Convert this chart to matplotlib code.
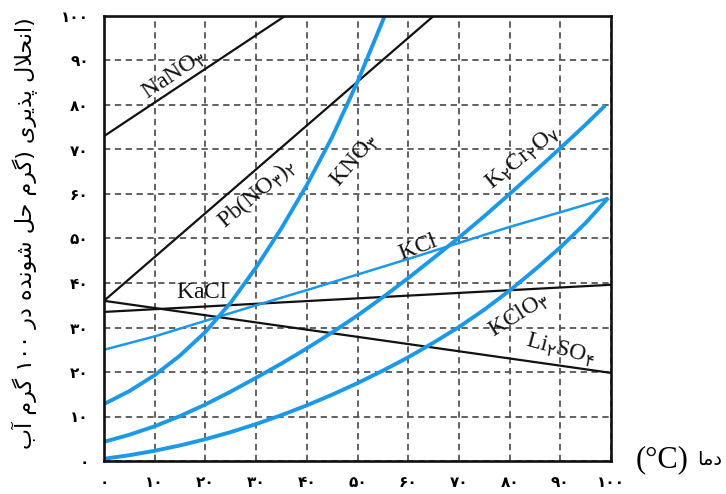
import matplotlib
matplotlib.use("Agg")
import matplotlib.pyplot as plt

plt.rcParams['mathtext.fontset'] = 'custom'
plt.rcParams['mathtext.rm'] = 'Liberation Serif'
plt.rcParams['mathtext.sf'] = 'DejaVu Sans'

# ---------------- data ----------------
tick_values = [0, 10, 20, 30, 40, 50, 60, 70, 80, 90, 100]
tick_labels = ['۰', '۱۰', '۲۰', '۳۰', '۴۰', '۵۰', '۶۰', '۷۰', '۸۰', '۹۰', '۱۰۰']

nano3_t = [0, 35.7]
nano3_s = [73, 100]

pbno32_t = [0, 65]
pbno32_s = [36, 100]

nacl_t = [0, 100]
nacl_s = [33.5, 39.6]

li2so4_t = [0, 100]
li2so4_s = [36, 19.8]

kno3_t = [0, 5, 10, 15, 20, 25, 30, 35, 40, 45, 50, 55, 57]
kno3_s = [12.8, 15.7, 19.3, 23.7, 29, 35.6, 43.5, 52.3, 62, 72.8, 85.2, 99, 105]

kcl_t = [0, 10, 20, 30, 40, 50, 60, 70, 80, 90, 99.2]
kcl_s = [25, 28, 31.5, 35, 38.4, 41.9, 45.4, 49, 52.6, 55.9, 59]

k2cr2o7_t = [0, 5, 10, 15, 20, 25, 30, 35, 40, 45, 50, 55, 60, 65, 70, 75, 80, 85, 90, 95, 98.6]
k2cr2o7_s = [4.3, 5.9, 7.8, 10.1, 12.7, 15.6, 18.7, 21.9, 25.3, 28.9, 32.7, 36.8, 41.1, 45.6,
             50.2, 55, 60, 65.1, 70.3, 75.6, 79.6]

kclo3_t = [0, 5, 10, 15, 20, 25, 30, 35, 40, 45, 50, 55, 60, 65, 70, 75, 80, 85, 90, 95, 99.2]
kclo3_s = [0.5, 1.3, 2.3, 3.5, 4.9, 6.5, 8.3, 10.3, 12.5, 14.9, 17.5, 20.3, 23.3, 26.6, 30.1,
           34, 38.3, 43, 48, 53.5, 58.8]

# Persian texts (visual order, presentation forms)
ylabel_text = ("\uFE8F\uFE81 \uFEE1\uFEAE\uFB94 \u06F1\u06F0\u06F0 \uFEAD\uFEA9 "
               "\uFEE9\uFEAA\uFEE7\uFEEE\uFEB7 \uFEDE\uFEA3 \uFEE1\uFEAE\uFB94) "
               "\uFBFC\uFEAE\uFBFE\uFEAC\uFB58 \uFEDD\uFEFC\uFEA4\uFEE7\uFE8D)")
xlabel_word = "\uFE8E\uFEE3\uFEA9"
xlabel_unit = "(°C)"

# ---------------- style ----------------
BLUE = '#1C98E8'
BLACK = '#111111'

fig = plt.figure(figsize=(7.26, 4.94), dpi=100)
ax = fig.add_axes([104 / 726, 33 / 494, 507 / 726, 445 / 494])
ax.set_xlim(0, 100)
ax.set_ylim(0, 100)

ax.set_xticks(tick_values)
ax.set_xticklabels(tick_labels, fontfamily='DejaVu Sans', fontweight='bold', fontsize=11)
ax.set_yticks(tick_values)
ax.set_yticklabels(tick_labels, fontfamily='DejaVu Sans', fontweight='bold', fontsize=11)
ax.tick_params(axis='x', length=0, pad=10)
ax.tick_params(axis='y', length=0, pad=11)

ax.set_axisbelow(True)
ax.grid(True, linestyle=(0, (3.5, 2.5)), color='#555555', linewidth=1.3)
for sp in ax.spines.values():
    sp.set_linewidth(1.9)
    sp.set_color(BLACK)
    sp.set_zorder(5)

# black lines
ax.plot(nano3_t, nano3_s, color=BLACK, lw=1.6, solid_capstyle='butt')
ax.plot(pbno32_t, pbno32_s, color=BLACK, lw=1.6, solid_capstyle='butt')
ax.plot(nacl_t, nacl_s, color=BLACK, lw=1.6, solid_capstyle='butt')
ax.plot(li2so4_t, li2so4_s, color=BLACK, lw=1.6, solid_capstyle='butt')

# blue curves
ax.plot(kno3_t, kno3_s, color=BLUE, lw=2.8, solid_joinstyle='round')
ax.plot(kcl_t, kcl_s, color=BLUE, lw=1.8, solid_joinstyle='round')
ax.plot(k2cr2o7_t, k2cr2o7_s, color=BLUE, lw=2.8, solid_joinstyle='round')
ax.plot(kclo3_t, kclo3_s, color=BLUE, lw=2.8, solid_joinstyle='round')

# curve labels
lab = dict(fontsize=17, ha='center', va='center', color=BLACK, zorder=6)
ax.text(13.8, 86.7, r'$\mathrm{NaNO}_{\mathsf{۳}}$', rotation=34, **lab)
ax.text(30.2, 60.2, r'$\mathrm{Pb(NO}_{\mathsf{۳}}\mathrm{)}_{\mathsf{۲}}$', rotation=40, **lab)
ax.text(49.5, 67.6, r'$\mathrm{KNO}_{\mathsf{۳}}$', rotation=50, **lab)
ax.text(82.6, 68.1, r'$\mathrm{K}_{\mathsf{۲}}\mathrm{Cr}_{\mathsf{۲}}\mathrm{O}_{\mathsf{۷}}$', rotation=39, **lab)
ax.text(62.0, 48.3, r'$\mathrm{KCl}$', rotation=21, **lab)
ax.text(19.3, 38.2, r'$\mathrm{KaCl}$', rotation=0, **lab)
ax.text(81.9, 32.8, r'$\mathrm{KClO}_{\mathsf{۳}}$', rotation=32, **lab)
ax.text(90.0, 25.0, r'$\mathrm{Li}_{\mathsf{۲}}\mathrm{SO}_{\mathsf{۴}}$', rotation=-15, **lab)

# axis labels
fig.text(25 / 726, 1 - 233 / 494, ylabel_text, rotation=90, ha='center', va='center',
         fontsize=16, fontfamily='DejaVu Sans')
fig.text(662 / 726, 1 - 460 / 494, xlabel_unit, ha='center', va='center',
         fontsize=22, fontfamily='Liberation Serif')
fig.text(710 / 726, 1 - 459 / 494, xlabel_word, ha='center', va='center',
         fontsize=14, fontfamily='DejaVu Sans')

fig.savefig('out.png', dpi=100)
